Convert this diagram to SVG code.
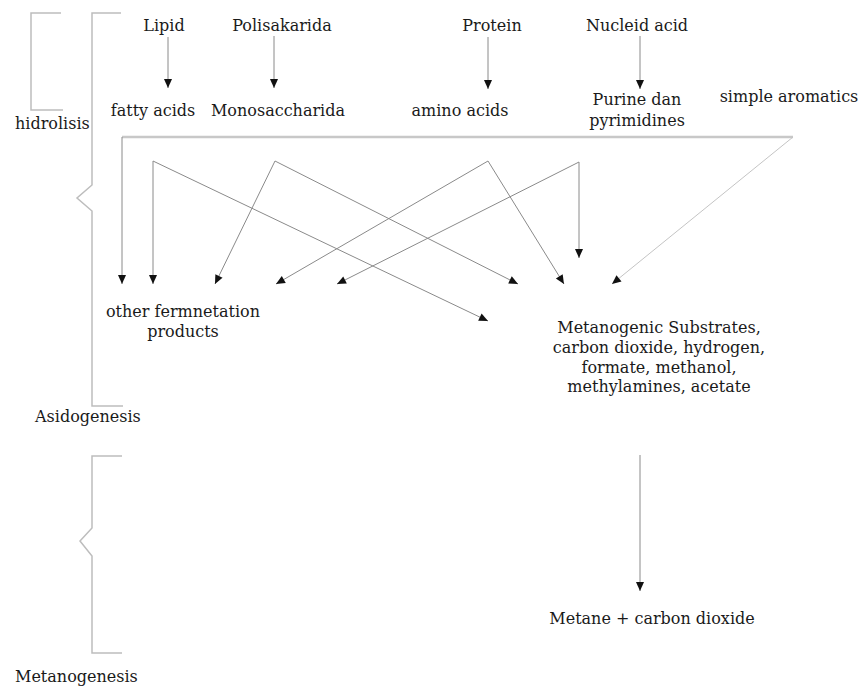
<svg xmlns="http://www.w3.org/2000/svg" width="862" height="687" viewBox="0 0 862 687">
<style>
text{font-family:"DejaVu Serif","Liberation Serif",serif;font-size:16px;fill:#1a1a1a;text-anchor:middle}
.lab{text-anchor:start}
.br{fill:none;stroke:#bdbdbd;stroke-width:1.5}
.c{fill:none;stroke:#8a8a8a;stroke-width:1}
.cl{fill:none;stroke:#c4c4c4;stroke-width:1}
.trunk{fill:none;stroke:#c8c8c8;stroke-width:2.5}
</style>
<defs>
<marker id="ah" markerUnits="userSpaceOnUse" markerWidth="11" markerHeight="11" viewBox="0 0 11 11" refX="10" refY="5.5" orient="auto">
<path d="M1,1.5 L10,5.5 L1,9.5 Z" fill="#111"/>
</marker>
</defs>
<rect width="862" height="687" fill="#fff"/>

<g id="brackets">
<path class="br" d="M61,13 H31 V110 H63"/>
<path class="br" d="M121,13 H92 V185 L77,198 L92,211 V406 H123"/>
<path class="br" d="M122,456 H92 V528 L80,541 L92,556 V653 H122"/>
</g>

<g id="n-hidrolisis"><text class="lab" x="15" y="129">hidrolisis</text></g>
<g id="n-asidogenesis"><text class="lab" x="35" y="422">Asidogenesis</text></g>
<g id="n-metanogenesis"><text class="lab" x="15" y="682">Metanogenesis</text></g>

<g id="n-lipid"><text x="164" y="31">Lipid</text></g>
<g id="n-polisakarida"><text x="282" y="31">Polisakarida</text></g>
<g id="n-protein"><text x="492" y="31">Protein</text></g>
<g id="n-nucleid"><text x="637" y="31">Nucleid acid</text></g>
<g id="n-fatty"><text x="153" y="116">fatty acids</text></g>
<g id="n-mono"><text x="278" y="116">Monosaccharida</text></g>
<g id="n-amino"><text x="460" y="116">amino acids</text></g>
<g id="n-purine"><text x="637" y="105">Purine dan</text><text x="637" y="126">pyrimidines</text></g>
<g id="n-aromatics"><text x="789" y="102">simple aromatics</text></g>
<g id="n-other"><text x="183" y="317">other fermnetation</text><text x="183" y="337">products</text></g>
<g id="n-substrates">
<text x="659" y="333">Metanogenic Substrates,</text>
<text x="659" y="353">carbon dioxide, hydrogen,</text>
<text x="659" y="373">formate, methanol,</text>
<text x="659" y="392">methylamines, acetate</text>
</g>
<g id="n-metane"><text x="652" y="624">Metane + carbon dioxide</text></g>

<g id="connectors">
<line class="c" x1="168" y1="37" x2="168" y2="88" marker-end="url(#ah)"/>
<line class="c" x1="274" y1="36" x2="274" y2="88" marker-end="url(#ah)"/>
<line class="c" x1="488" y1="37" x2="488" y2="89" marker-end="url(#ah)"/>
<line class="c" x1="640" y1="36" x2="640" y2="89" marker-end="url(#ah)"/>

<path class="trunk" d="M122,137 H793"/>
<line class="c" x1="122" y1="137" x2="122" y2="284" marker-end="url(#ah)"/>
<line class="cl" x1="793" y1="137" x2="612" y2="284" marker-end="url(#ah)"/>

<line class="c" x1="153" y1="161" x2="488" y2="321" marker-end="url(#ah)"/>
<line class="c" x1="153" y1="161" x2="153" y2="284" marker-end="url(#ah)"/>

<line class="c" x1="275" y1="161" x2="215" y2="284" marker-end="url(#ah)"/>
<line class="c" x1="275" y1="161" x2="518" y2="284" marker-end="url(#ah)"/>

<line class="c" x1="488" y1="161" x2="276" y2="284" marker-end="url(#ah)"/>
<line class="c" x1="488" y1="161" x2="564" y2="284" marker-end="url(#ah)"/>

<line class="c" x1="579" y1="162" x2="337" y2="284" marker-end="url(#ah)"/>
<line class="c" x1="579" y1="162" x2="579" y2="258" marker-end="url(#ah)"/>

<line class="c" x1="640" y1="455" x2="640" y2="591" marker-end="url(#ah)"/>
</g>
</svg>
